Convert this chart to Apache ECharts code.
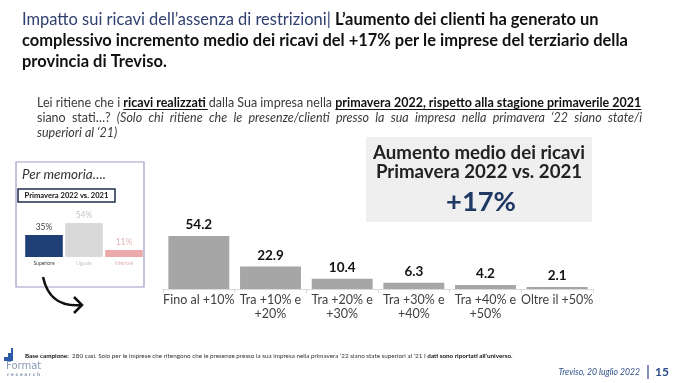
<!DOCTYPE html>
<html><head><meta charset="utf-8">
<script src="https://cdn.jsdelivr.net/npm/echarts@6/dist/echarts.min.js"></script>
<style>html,body{margin:0;padding:0;background:#fff}#c{width:680px;height:383px}</style>
</head><body><div id="c"></div>
<script>
// ---- data ----
const categories = ['Fino al +10%', 'Tra +10% e\n+20%', 'Tra +20% e\n+30%', 'Tra +30% e\n+40%', 'Tra +40% e\n+50%', 'Oltre il +50%'];
const values = [54.2, 22.9, 10.4, 6.3, 4.2, 2.1];
const memoCategories = ['Superiore', 'Uguale', 'Inferiore'];
const memoValues = [35, 54, 11];
const averageIncrease = '+17%';

// ---- layout helpers ----
const FF = 'Lato';
const mctx = document.createElement('canvas').getContext('2d');
function tw(text, font) { mctx.font = font; return mctx.measureText(text).width; }
function fit(text, style, target) { return 20 * target / tw(text, style + ' 20px ' + FF); }

const chart = echarts.init(document.getElementById('c'), null, {renderer: 'canvas'});

// title
const t1a = 'Impatto sui ricavi dell\u2019assenza di restrizioni| ';
const t1b = 'L\u2019aumento dei clienti ha generato un';
const t2 = 'complessivo incremento medio dei ricavi del +17% per le imprese del terziario della';
const t3 = 'provincia di Treviso.';
const tSize = fit(t2, 'bold', 606);

// question
const q1 = [['Lei ritiene che i ', 'normal'], ['ricavi realizzati ', 'bold'], ['dalla Sua impresa nella ', 'normal'], ['primavera 2022, rispetto alla stagione primaverile 2021', 'bold']];
const q2 = [['siano stati\u2026?', 'normal'], ['(Solo chi ritiene che le presenze/clienti presso la sua impresa nella primavera \u201822 siano state/i', 'italic']];
const q3 = 'superiori al \u201821)';
let q1w20 = 0; q1.forEach(s => q1w20 += tw(s[0], s[1] + ' 20px ' + FF));
const qSize = 20 * 605 / q1w20;

const graphics = [];
// title line 1 (rich)
graphics.push({type: 'text', left: 22, top: 12, style: {
  text: '{a|' + t1a + '}{b|' + t1b + '}',
  rich: {a: {fontFamily: FF, fontSize: tSize, fontWeight: 'normal', fill: '#2f3f6f'}, b: {fontFamily: FF, fontSize: tSize, fontWeight: 'bold', fill: '#111'}}
}});
graphics.push({type: 'text', left: 22, top: 33, style: {text: t2, fontFamily: FF, fontSize: tSize, fontWeight: 'bold', fill: '#111'}});
graphics.push({type: 'text', left: 22, top: 54, style: {text: t3, fontFamily: FF, fontSize: tSize, fontWeight: 'bold', fill: '#111'}});

// question line 1 with underlines
let qx = 37;
q1.forEach(s => {
  const f = s[1] + ' ' + qSize + 'px ' + FF;
  const w = tw(s[0], f);
  graphics.push({type: 'text', x: qx, y: 103, style: {text: s[0], font: f, fill: s[1] === 'bold' ? '#111' : '#3a3a3a', textVerticalAlign: 'middle'}});
  if (s[1] === 'bold') {
    const uw = tw(s[0].trimEnd(), f) + (s[0].endsWith(' ') ? 2 : 0);
    graphics.push({type: 'line', shape: {x1: qx, y1: 109.5, x2: qx + uw, y2: 109.5}, style: {stroke: '#111', lineWidth: 1}});
  }
  qx += w;
});
// question line 2, justified word by word
(function () {
  const words = [];
  q2.forEach(s => s[0].split(' ').forEach(w => words.push([w, s[1] + ' ' + qSize + 'px ' + FF])));
  let total = 0; words.forEach(w => total += tw(w[0], w[1]));
  const gap = (605 - total) / (words.length - 1);
  let x = 37;
  words.forEach(w => {
    graphics.push({type: 'text', x: x, y: 118, style: {text: w[0], font: w[1], fill: '#3a3a3a', textVerticalAlign: 'middle'}});
    x += tw(w[0], w[1]) + gap;
  });
})();
graphics.push({type: 'text', x: 37, y: 133, style: {text: q3, fontFamily: FF, fontSize: qSize, fontStyle: 'italic', fill: '#3a3a3a', textVerticalAlign: 'middle'}});

// highlight box
graphics.push({type: 'rect', shape: {x: 366, y: 137, width: 226, height: 85}, style: {fill: '#efefef'}, z: -1});
const bSize = fit('Aumento medio dei ricavi', 'bold', 212);
graphics.push({type: 'text', x: 479, y: 153, style: {text: 'Aumento medio dei ricavi', fontFamily: FF, fontSize: bSize, fontWeight: 'bold', fill: '#222', textAlign: 'center', textVerticalAlign: 'middle'}});
graphics.push({type: 'text', x: 479, y: 172, style: {text: 'Primavera 2022 vs. 2021', fontFamily: FF, fontSize: bSize, fontWeight: 'bold', fill: '#222', textAlign: 'center', textVerticalAlign: 'middle'}});
graphics.push({type: 'text', x: 481, y: 202, style: {text: averageIncrease, fontFamily: FF, fontSize: fit(averageIncrease, 'bold', 70), fontWeight: 'bold', fill: '#1f3864', textAlign: 'center', textVerticalAlign: 'middle'}});

// memo box
graphics.push({type: 'rect', shape: {x: 16, y: 162, width: 128, height: 125}, style: {fill: 'none', stroke: '#9c9cc9', lineWidth: 1.2}});
graphics.push({type: 'text', x: 22, y: 175, style: {text: 'Per memoria\u2026.', fontFamily: FF, fontSize: fit('Per memoria\u2026.', 'italic', 84), fontStyle: 'italic', fill: '#333', textVerticalAlign: 'middle'}});
graphics.push({type: 'rect', shape: {x: 18, y: 189, width: 97, height: 13}, style: {fill: '#fff', stroke: '#1f2d50', lineWidth: 1.5}});
graphics.push({type: 'text', x: 66.5, y: 195.5, style: {text: 'Primavera 2022 vs. 2021', fontFamily: FF, fontSize: fit('Primavera 2022 vs. 2021', 'bold', 84), fontWeight: 'bold', fill: '#111', textAlign: 'center', textVerticalAlign: 'middle'}});
// curved arrow
graphics.push({type: 'bezierCurve', shape: {x1: 43, y1: 277, cpx1: 48, cpy1: 300, cpx2: 62, cpy2: 307, x2: 82, y2: 305}, style: {stroke: '#111', lineWidth: 2.5, fill: 'none'}});
graphics.push({type: 'polyline', shape: {points: [[74, 297], [82, 305], [74, 313]]}, style: {stroke: '#111', lineWidth: 2.5, fill: 'none'}});

// footer
graphics.push({type: 'polygon', shape: {points: [[4, 361], [4, 357], [8, 357], [8, 353], [11, 353], [11, 348], [13, 348], [13, 361]]}, style: {fill: '#2d5ba8'}});
graphics.push({type: 'text', x: 25, y: 356, style: {
  text: '{b|Base campione:} {n|280 casi. Solo per le imprese che ritengono che le presenze presso la sua impresa nella primavera \u201822 siano state superiori al \u201821 I }{b|dati sono riportati all\u2019universo.}',
  textVerticalAlign: 'middle',
  rich: {b: {fontFamily: FF, fontSize: 6.3, fontWeight: 'bold', fill: '#111'}, n: {fontFamily: FF, fontSize: 6.3, fill: '#333'}}
}});
graphics.push({type: 'text', x: 6, y: 366, style: {text: 'Format', fontFamily: 'DejaVu Sans', fontSize: 10, fill: '#8a9ab5', textVerticalAlign: 'middle'}});
graphics.push({type: 'text', x: 7, y: 374.5, style: {text: 'r e s e a r c h', fontFamily: 'DejaVu Sans', fontSize: 4.5, fontWeight: 'bold', fill: '#8a9ab5', textVerticalAlign: 'middle'}});
graphics.push({type: 'text', x: 640, y: 372, style: {text: 'Treviso, 20 luglio 2022', fontFamily: FF, fontSize: 8.6, fontStyle: 'italic', fill: '#2f4f8a', textAlign: 'right', textVerticalAlign: 'middle'}});
graphics.push({type: 'line', shape: {x1: 648, y1: 365, x2: 648, y2: 379}, style: {stroke: '#2f4f8a', lineWidth: 1.2}});
graphics.push({type: 'text', x: 655, y: 372, style: {text: '15', fontFamily: FF, fontSize: 12, fontWeight: 'bold', fill: '#2f4f8a', textVerticalAlign: 'middle'}});

const memoText = ['#404040', '#c4c4c4', '#e2b4b4'];
const memoBar = ['#1f3f77', '#d9d9d9', '#eaa9aa'];

const option = {
  animation: false,
  backgroundColor: '#fff',
  textStyle: {fontFamily: FF},
  grid: [
    {left: 163, right: 87, top: 230.2, bottom: 94},
    {left: 24, width: 120, top: 219.2, bottom: 126}
  ],
  xAxis: [
    {type: 'category', gridIndex: 0, data: categories,
     axisLine: {lineStyle: {color: '#d9d9d9', width: 1}},
     axisTick: {show: true, length: 4, lineStyle: {color: '#d9d9d9'}},
     axisLabel: {fontFamily: FF, fontSize: 12.5, color: '#404040', lineHeight: 14, margin: 4, interval: 0}},
    {type: 'category', gridIndex: 1, data: memoCategories.map((c, i) => ({value: c, textStyle: {color: memoText[i]}})),
     axisLine: {show: false}, axisTick: {show: false},
     axisLabel: {fontFamily: FF, fontSize: 5, margin: 4, interval: 0}}
  ],
  yAxis: [
    {type: 'value', gridIndex: 0, min: 0, max: 60, show: false},
    {type: 'value', gridIndex: 1, min: 0, max: 60, show: false}
  ],
  series: [
    {type: 'bar', xAxisIndex: 0, yAxisIndex: 0, data: values, barCategoryGap: '15%',
     itemStyle: {color: '#a6a6a6'},
     label: {show: true, position: 'top', distance: 4, fontFamily: FF, fontSize: 13.5, fontWeight: 'bold', color: '#111', formatter: p => p.value.toFixed(1)}},
    {type: 'bar', xAxisIndex: 1, yAxisIndex: 1, barCategoryGap: '6%',
     data: memoValues.map((v, i) => ({value: v, itemStyle: {color: memoBar[i]}, label: {color: memoText[i]}})),
     label: {show: true, position: 'top', distance: 3, fontFamily: FF, fontSize: 8.5, formatter: p => p.value + '%'}}
  ],
  graphic: graphics
};
chart.setOption(option);
</script>
</body></html>
